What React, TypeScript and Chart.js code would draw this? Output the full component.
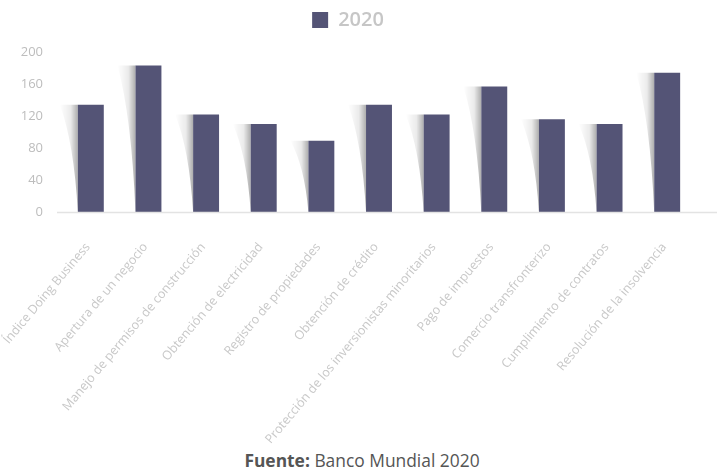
import React, { useEffect, useRef } from "react";
import { Chart, registerables } from "chart.js";

Chart.register(...registerables);

const categories = [
  "Índice Doing Business",
  "Apertura de un negocio",
  "Manejo de permisos de construcción",
  "Obtención de electricidad",
  "Registro de propiedades",
  "Obtención de crédito",
  "Protección de los inversionistas minoritarios",
  "Pago de impuestos",
  "Comercio transfronterizo",
  "Cumplimiento de contratos",
  "Resolución de la insolvencia",
];
const seriesName = "2020";
const values2020 = [134, 183, 122, 110, 89, 134, 122, 157, 116, 110, 174];
const yTicks = [0, 40, 80, 120, 160, 200];

const FONT = "'Open Sans', 'Noto Sans', sans-serif";
const BAR_COLOR = "#545476";

const shadowPlugin = {
  id: "barShadow",
  beforeDatasetsDraw(chart: any) {
    const ctx = chart.ctx;
    const meta = chart.getDatasetMeta(0);
    meta.data.forEach((bar: any) => {
      const p = bar.getProps(["x", "y", "base", "width"], true);
      const left = p.x - p.width / 2;
      const sw = 18;
      const g = ctx.createLinearGradient(left - sw, 0, left, 0);
      g.addColorStop(0, "rgba(0,0,0,0)");
      g.addColorStop(0.6, "rgba(0,0,0,0.08)");
      g.addColorStop(1, "rgba(0,0,0,0.32)");
      ctx.save();
      ctx.beginPath();
      ctx.moveTo(left, p.y);
      ctx.lineTo(left - sw, p.y);
      ctx.quadraticCurveTo(left - 4, p.y + (p.base - p.y) * 0.35, left, p.base);
      ctx.closePath();
      ctx.fillStyle = g;
      ctx.fill();
      ctx.restore();
    });
  },
  afterDatasetsDraw(chart: any) {
    const ctx = chart.ctx;
    const y0 = chart.scales.y.getPixelForValue(0);
    const area = chart.chartArea;
    ctx.save();
    ctx.strokeStyle = "#e3e3e3";
    ctx.lineWidth = 1.5;
    ctx.beginPath();
    ctx.moveTo(area.left - 5, y0 + 0.5);
    ctx.lineTo(area.right + 21, y0 + 0.5);
    ctx.stroke();
    ctx.restore();
  },
};

export default function App() {
  const ref = useRef<HTMLCanvasElement | null>(null);
  useEffect(() => {
    document.body.style.margin = "0";
    if (!ref.current) return;
    const chart = new Chart(ref.current, {
      type: "bar",
      data: {
        labels: categories,
        datasets: [
          {
            label: seriesName,
            data: values2020,
            backgroundColor: BAR_COLOR,
            borderWidth: 0,
            barPercentage: 0.45,
            categoryPercentage: 1,
          },
        ],
      },
      options: {
        animation: false,
        responsive: false,
        maintainAspectRatio: false,
        layout: { padding: { left: 0, right: 28, top: 0, bottom: 0 } },
        plugins: {
          legend: {
            display: true,
            position: "top",
            labels: {
              boxWidth: 16,
              boxHeight: 16,
              padding: 10,
              color: "#c6c6c6",
              font: { family: FONT, size: 20, weight: "600" },
            },
          },
          tooltip: { enabled: false },
        },
        scales: {
          x: {
            grid: { display: false },
            border: { display: false },
            afterFit(scale: any) {
              scale.paddingLeft = 0;
              scale.paddingRight = 0;
              scale.height = 233;
            },
            ticks: {
              autoSkip: false,
              minRotation: 50,
              maxRotation: 50,
              color: "#c8c8c8",
              font: { family: FONT, size: 12.5 },
              padding: 20,
              labelOffset: -3,
            },
          },
          y: {
            min: 0,
            max: 215,
            afterFit(scale: any) {
              scale.width = 62;
            },
            afterBuildTicks(scale: any) {
              scale.ticks = yTicks.map((v) => ({ value: v }));
            },
            grid: { display: false },
            border: { display: false },
            ticks: {
              color: "#bdbdbd",
              font: { family: FONT, size: 13 },
              padding: 11,
            },
          },
        },
      },
      plugins: [shadowPlugin],
    });
    return () => chart.destroy();
  }, []);
  return (
    <div style={{ position: "relative", width: 724, height: 472, background: "#fff" }}>
      <canvas ref={ref} width={724} height={445} style={{ display: "block" }} />
      <div
        style={{
          position: "absolute",
          top: 450,
          left: 0,
          width: 724,
          textAlign: "center",
          fontFamily: FONT,
          fontSize: 17.4,
          lineHeight: "20px",
          color: "#555",
        }}
      >
        <b>Fuente:</b> Banco Mundial 2020
      </div>
    </div>
  );
}
